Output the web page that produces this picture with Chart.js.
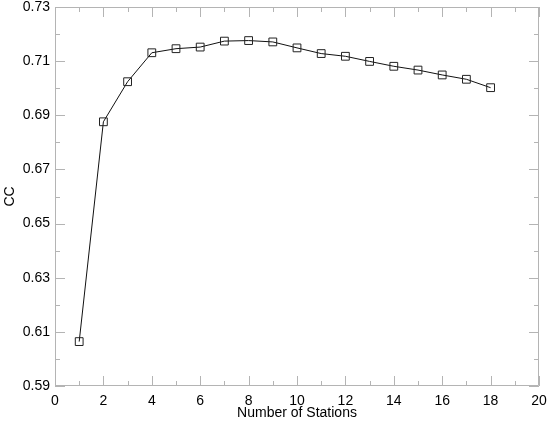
<!DOCTYPE html>
<html>
<head>
<meta charset="utf-8">
<script src="https://cdn.jsdelivr.net/npm/chart.js@4"></script>
<style>
  html, body { margin: 0; padding: 0; background: #fff; }
  #wrap { width: 550px; height: 424px; }
</style>
</head>
<body>
<div id="wrap"><canvas id="myChart" width="550" height="424"></canvas></div>
<script>
// values
const stations = [1, 2, 3, 4, 5, 6, 7, 8, 9, 10, 11, 12, 13, 14, 15, 16, 17, 18];
const cc = [0.6064, 0.6876, 0.7024, 0.7131, 0.7146, 0.7152, 0.7174, 0.7176, 0.7171,
            0.7149, 0.7128, 0.7118, 0.7099, 0.7081, 0.7067, 0.7049, 0.7033, 0.7002];
const xTicks = [0, 2, 4, 6, 8, 10, 12, 14, 16, 18, 20];
const yTicks = [0.59, 0.61, 0.63, 0.65, 0.67, 0.69, 0.71, 0.73];

const axisGray = '#b4b4b4';

// inward ticks on all four sides + frame
const frameTicks = {
    id: 'frameTicks',
    afterDraw(chart) {
        const { ctx, chartArea: a, scales: { x, y } } = chart;
        ctx.save();
        ctx.strokeStyle = axisGray;
        ctx.lineWidth = 1;
        ctx.beginPath();
        ctx.rect(a.left + 0.5, a.top + 0.5, a.right - a.left - 1, a.bottom - a.top - 1);
        for (let v = 0; v <= 20; v++) {
            const len = v % 2 === 0 ? 10 : 5;
            const px = Math.round(x.getPixelForValue(v)) + 0.5;
            ctx.moveTo(px, a.bottom); ctx.lineTo(px, a.bottom - len);
            ctx.moveTo(px, a.top); ctx.lineTo(px, a.top + len);
        }
        for (let i = 0; i <= 14; i++) {
            const v = 0.59 + i * 0.01;
            const len = i % 2 === 0 ? 10 : 5;
            const py = Math.round(y.getPixelForValue(v)) + 0.5;
            ctx.moveTo(a.left, py); ctx.lineTo(a.left + len, py);
            ctx.moveTo(a.right, py); ctx.lineTo(a.right - len, py);
        }
        ctx.stroke();
        ctx.restore();
    }
};

const ctx = document.getElementById('myChart').getContext('2d');
const myChart = new Chart(ctx, {
    type: 'line',
    data: {
        datasets: [{
            data: stations.map((s, i) => ({ x: s, y: cc[i] })),
            borderColor: '#111',
            borderWidth: 1,
            pointStyle: 'rect',
            pointRadius: 5.5,
            pointBorderColor: '#222',
            pointBorderWidth: 1,
            pointBackgroundColor: 'rgba(0,0,0,0)',
            tension: 0
        }]
    },
    options: {
        responsive: false,
        animation: false,
        layout: { padding: { top: 0, right: 0, left: 0, bottom: 0 } },
        plugins: {
            legend: { display: false },
            tooltip: { enabled: false }
        },
        scales: {
            x: {
                type: 'linear',
                min: 0, max: 20,
                afterBuildTicks: s => { s.ticks = xTicks.map(v => ({ value: v })); },
                afterFit: s => { s.height = 38; s.paddingRight = 11; s.paddingLeft = 0; },
                grid: { display: false, drawTicks: false },
                border: { display: false },
                ticks: {
                    padding: 7,
                    color: '#000',
                    font: { family: 'Liberation Sans', size: 14 },
                    maxRotation: 0
                },
                title: {
                    display: true,
                    text: 'Number of Stations',
                    color: '#000',
                    font: { family: 'Liberation Sans', size: 14 },
                    padding: { top: 0, bottom: 2 }
                }
            },
            y: {
                min: 0.59, max: 0.73,
                afterBuildTicks: s => { s.ticks = yTicks.map(v => ({ value: v })); },
                afterFit: s => { s.width = 55; s.paddingTop = 7; s.paddingBottom = 0; },
                grid: { display: false, drawTicks: false },
                border: { display: false },
                ticks: {
                    padding: 5,
                    color: '#000',
                    font: { family: 'Liberation Sans', size: 14 },
                    callback: v => v.toFixed(2)
                },
                title: {
                    display: true,
                    text: 'CC',
                    color: '#000',
                    font: { family: 'Liberation Sans', size: 14 },
                    padding: { top: 2, bottom: 0 }
                }
            }
        }
    },
    plugins: [frameTicks]
});
</script>
</body>
</html>
